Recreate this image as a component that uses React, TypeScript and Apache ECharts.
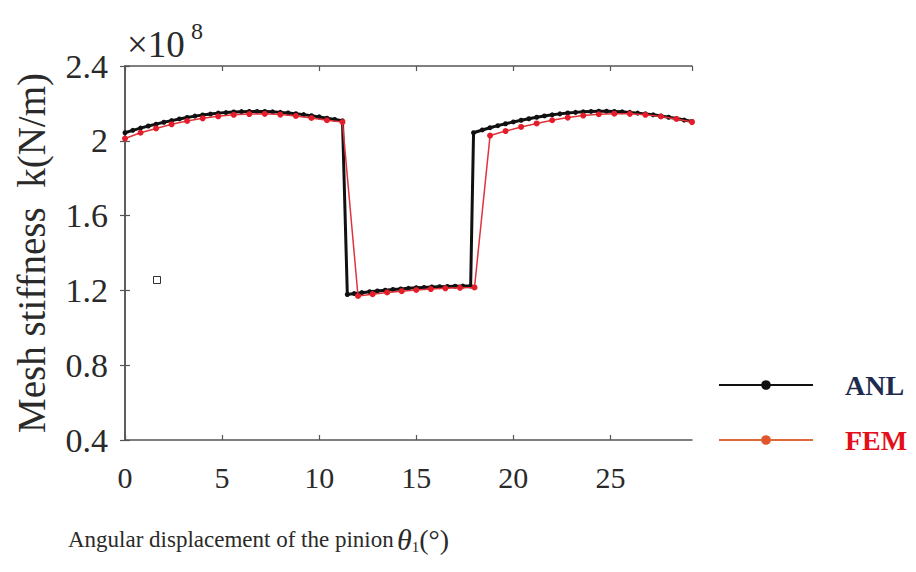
import React, { useEffect, useRef } from 'react';
import * as echarts from 'echarts';

// Angular displacement (deg) and mesh stiffness (x1e8 N/m)
const anlAngle = [
  0, 0.4, 0.8, 1.2, 1.6, 2.0, 2.4, 2.8, 3.2, 3.6, 4.0, 4.4, 4.8, 5.2, 5.6, 6.0, 6.4, 6.8, 7.2, 7.6, 8.0, 8.4, 8.8, 9.2, 9.6, 10.0, 10.4, 10.8, 11.2,
  11.45, 11.8, 12.2, 12.6, 13.0, 13.4, 13.8, 14.2, 14.6, 15.0, 15.4, 15.8, 16.2, 16.6, 17.0, 17.4, 17.8,
  17.95, 18.4, 18.8, 19.2, 19.6, 20.0, 20.4, 20.8, 21.2, 21.6, 22.0, 22.4, 22.8, 23.2, 23.6, 24.0, 24.4, 24.8, 25.2, 25.6, 26.0, 26.4, 26.8, 27.2, 27.6, 28.0, 28.4, 28.8, 29.2,
];
const anlStiffness = [
  2.043, 2.056, 2.068, 2.079, 2.089, 2.099, 2.108, 2.117, 2.125, 2.132, 2.138, 2.143, 2.148, 2.151, 2.154, 2.156, 2.157, 2.157, 2.157, 2.155, 2.152, 2.149, 2.145, 2.14, 2.134, 2.128, 2.121, 2.114, 2.107,
  1.178, 1.183, 1.188, 1.193, 1.197, 1.201, 1.205, 1.208, 1.211, 1.214, 1.216, 1.218, 1.22, 1.221, 1.222, 1.223, 1.223,
  2.043, 2.058, 2.07, 2.081, 2.091, 2.101, 2.11, 2.118, 2.126, 2.133, 2.139, 2.144, 2.149, 2.152, 2.155, 2.157, 2.158, 2.158, 2.157, 2.155, 2.152, 2.148, 2.144, 2.139, 2.133, 2.126, 2.119, 2.111, 2.103,
];
const femAngle = [
  0, 0.8, 1.6, 2.4, 3.2, 4.0, 4.8, 5.6, 6.4, 7.2, 8.0, 8.8, 9.6, 10.4, 11.2,
  12.0, 12.75, 13.5, 14.25, 15.0, 15.75, 16.5, 17.25, 18.0,
  18.8, 19.6, 20.4, 21.2, 22.0, 22.8, 23.6, 24.4, 25.2, 26.0, 26.8, 27.6, 28.4, 29.2,
];
const femStiffness = [
  2.012, 2.043, 2.066, 2.088, 2.106, 2.12, 2.131, 2.139, 2.143, 2.144, 2.14, 2.133, 2.122, 2.11, 2.1,
  1.17, 1.18, 1.189, 1.196, 1.202, 1.207, 1.211, 1.214, 1.216,
  2.028, 2.052, 2.074, 2.093, 2.11, 2.124, 2.135, 2.142, 2.145, 2.144, 2.139, 2.13, 2.117, 2.1,
];
const seriesNames = ['ANL', 'FEM'];
const xMin = 0;
const xMax = 29.2;
const xStep = 5;
const yMin = 0.4;
const yMax = 2.4;
const yStep = 0.4;

const SERIF = '"Liberation Serif", "Times New Roman", serif';
const TXT = '#2a2a2a';
const AX = '#555';

export default function App() {
  const ref = useRef<HTMLDivElement>(null);
  useEffect(() => {
    document.body.style.margin = '0';
    if (!ref.current) return;
    const chart = echarts.init(ref.current, undefined, { renderer: 'svg' });
    const anlData = anlAngle.map((a, i) => [a, anlStiffness[i]]);
    const femData = femAngle.map((a, i) => [a, femStiffness[i]]);
    const axisLine = { show: true, lineStyle: { color: AX, width: 1.5 } };
    const tick = { show: true, inside: true, length: 5, lineStyle: { color: AX, width: 1.2 } };
    chart.setOption({
      animation: false,
      backgroundColor: '#fff',
      grid: { left: 125, right: 224, top: 66, bottom: 132, containLabel: false },
      xAxis: [
        {
          type: 'value', min: xMin, max: xMax, interval: xStep, position: 'bottom',
          axisLine, axisTick: tick, splitLine: { show: false },
          axisLabel: { showMaxLabel: false, fontFamily: SERIF, fontSize: 30, color: TXT, margin: 22 },
          name: '{a|Angular displacement of the pinion} {t|θ}{s|1}{p|(°)}',
          nameLocation: 'middle', nameGap: 84,
          nameTextStyle: {
            padding: [0, 300, 0, 0],
            rich: {
              a: { fontFamily: SERIF, fontSize: 23, color: TXT },
              t: { fontFamily: SERIF, fontSize: 30, fontStyle: 'italic', color: TXT },
              s: { fontFamily: SERIF, fontSize: 15, color: TXT, verticalAlign: 'bottom' },
              p: { fontFamily: SERIF, fontSize: 28, color: TXT },
            },
          },
        },
        {
          type: 'value', min: xMin, max: xMax, interval: xStep, position: 'top',
          axisLine, axisTick: tick, axisLabel: { show: false }, splitLine: { show: false },
        },
      ],
      yAxis: [
        {
          type: 'value', min: yMin, max: yMax, interval: yStep, position: 'left',
          axisLine, axisTick: tick, splitLine: { show: false },
          axisLabel: { fontFamily: SERIF, fontSize: 34, color: TXT, margin: 17 },
          name: 'Mesh stiffness  k(N/m)', nameLocation: 'middle', nameGap: 74,
          nameTextStyle: { fontFamily: SERIF, fontSize: 39, color: TXT },
        },
        {
          type: 'value', min: yMin, max: yMax, interval: yStep, position: 'right',
          axisLine, axisTick: tick, axisLabel: { show: false }, splitLine: { show: false },
        },
      ],
      legend: {
        orient: 'vertical', left: 713, top: 366, itemWidth: 94, itemHeight: 12, itemGap: 27,
        textStyle: { fontFamily: SERIF, fontSize: 28, fontWeight: 'bold', padding: [0, 0, 0, 27] },
        data: [
          { name: seriesNames[0], textStyle: { color: '#1d2b4f' } },
          { name: seriesNames[1], textStyle: { color: '#e3101a' }, itemStyle: { color: '#e2552a' }, lineStyle: { color: '#de6a3c', width: 2 } },
        ],
      },
      graphic: [
        { type: 'text', x: 127, y: 44, style: { text: '×10', font: `37px ${SERIF}`, fill: TXT, verticalAlign: 'middle' } },
        { type: 'text', x: 191, y: 31, style: { text: '8', font: `24px ${SERIF}`, fill: TXT, verticalAlign: 'middle' } },
        { type: 'rect', shape: { x: 153.5, y: 276.5, width: 7, height: 7 }, style: { fill: 'none', stroke: '#333', lineWidth: 1 } },
      ],
      series: [
        {
          name: seriesNames[0], type: 'line', data: anlData,
          symbol: 'circle', symbolSize: 5,
          lineStyle: { color: '#111', width: 3 },
          itemStyle: { color: '#111' },
          z: 2,
        },
        {
          name: seriesNames[1], type: 'line', data: femData,
          symbol: 'circle', symbolSize: 6,
          lineStyle: { color: '#e2323a', width: 1.5 },
          itemStyle: { color: '#e41d2a' },
          z: 3,
        },
      ],
    });
    return () => chart.dispose();
  }, []);
  return <div ref={ref} style={{ width: 916, height: 572, position: 'absolute', left: 0, top: 0 }} />;
}
